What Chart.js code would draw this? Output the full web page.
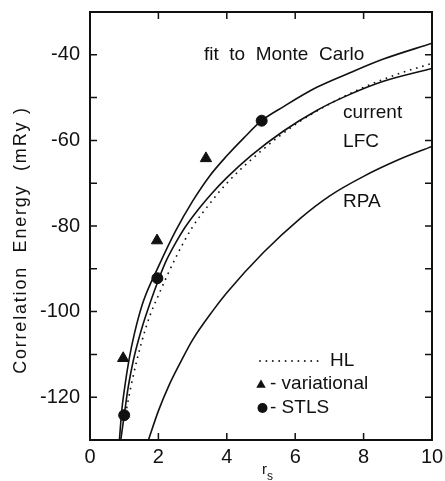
<!DOCTYPE html>
<html>
<head>
<meta charset="utf-8">
<script src="https://cdn.jsdelivr.net/npm/chart.js@4/dist/chart.umd.min.js"></script>
<style>
  html, body { margin: 0; padding: 0; background: #fff; }
  #wrap { width: 445px; height: 481px; }
</style>
</head>
<body>
<div id="wrap"><canvas id="c" width="445" height="481"></canvas></div>
<script>
// ---- data (r_s, correlation energy in mRy) ----
const mcRs  = [0.86, 0.93, 1.0, 1.14, 1.3, 1.56, 2.0, 2.5, 3.0, 3.5, 4.0, 4.5, 5.0, 5.66, 6.63, 7.6, 8.58, 10.0];
const mcE   = [-130, -123, -118.5, -111.3, -105.1, -97.6, -89.5, -81.2, -74.2, -68.3, -63.6, -59.4, -55.5, -52.1, -47.6, -44.2, -41.0, -37.3];

const lfcRs = [0.9, 1.0, 1.12, 1.27, 1.5, 1.8, 2.0, 2.2, 2.5, 2.78, 3.2, 3.56, 4.0, 4.7, 5.66, 6.63, 7.5, 8.58, 10.0];
const lfcE  = [-130, -124.2, -117.5, -111.3, -104.3, -97.0, -92.6, -88.6, -84.0, -80.3, -75.8, -72.4, -68.7, -63.6, -57.8, -53.0, -49.6, -46.2, -43.2];

const hlRs  = [1.0, 1.25, 1.5, 1.75, 2.0, 2.5, 3.0, 3.5, 4.0, 5.0, 6.0, 7.0, 8.0, 9.0, 10.0];
const hlE   = [-125.5, -115.5, -107.4, -101.0, -96.2, -87.5, -80.2, -74.8, -70.0, -62.5, -56.3, -51.5, -47.6, -44.5, -42.0];

const rpaRs = [1.71, 2.0, 2.3, 2.63, 3.0, 3.61, 4.0, 5.07, 6.15, 7.0, 8.0, 9.0, 10.0];
const rpaE  = [-130, -123.2, -117.4, -112.1, -106.6, -99.6, -95.6, -86.2, -78.2, -73.0, -68.4, -64.6, -61.4];

const variationalRs = [0.97, 1.96, 3.39];
const variationalE  = [-110.9, -83.4, -64.2];

const stlsRs = [1.0, 1.97, 5.02];
const stlsE  = [-124.2, -92.2, -55.4];

const xTickStep = 2;
const yTickStep = 10;
const yLabelStep = 20;

// ---- text content ----
const yTitle = 'Correlation  Energy  (mRy )';
const xTitleMain = 'r';
const xTitleSub = 's';
const notes = [
  { text: 'fit  to  Monte  Carlo', r: 3.33, e: -39.9 },
  { text: 'current', r: 7.40, e: -53.6 },
  { text: 'LFC', r: 7.40, e: -60.4 },
  { text: 'RPA', r: 7.40, e: -74.4 }
];
const legendItems = ['HL', '- variational', '- STLS'];

// ---- styling / layout (not data) ----
const FONT = '"Liberation Sans", Arial, Helvetica, sans-serif';
const INK = '#111';
const LEG = { dotX0: 260, dotX1: 318, dotY: 361, hlX: 330, triX: 261, triY: 385, cirX: 262.5, cirY: 408, textX: 270 };

const pts = (xs, ys) => xs.map((x, i) => ({ x: x, y: ys[i] }));

const lineBase = {
  showLine: true, pointRadius: 0, borderColor: INK, borderWidth: 1.6,
  cubicInterpolationMode: 'monotone', fill: false
};

const decor = {
  id: 'decor',
  afterDraw(chart) {
    const { ctx, chartArea: a, scales: { x, y } } = chart;
    ctx.save();
    ctx.strokeStyle = INK;
    ctx.fillStyle = INK;
    // frame
    ctx.lineWidth = 2;
    ctx.strokeRect(a.left, a.top, a.right - a.left, a.bottom - a.top);
    // inward ticks on all four sides
    ctx.lineWidth = 1.5;
    ctx.beginPath();
    x.ticks.forEach(t => {
      if (t.value <= x.min || t.value >= x.max) return;
      const px = x.getPixelForValue(t.value);
      ctx.moveTo(px, a.bottom); ctx.lineTo(px, a.bottom - 7);
      ctx.moveTo(px, a.top); ctx.lineTo(px, a.top + 7);
    });
    y.ticks.forEach(t => {
      if (t.value <= y.min || t.value >= y.max) return;
      const py = y.getPixelForValue(t.value);
      ctx.moveTo(a.left, py); ctx.lineTo(a.left + 7, py);
      ctx.moveTo(a.right, py); ctx.lineTo(a.right - 7, py);
    });
    ctx.stroke();

    // annotations
    ctx.font = '19px ' + FONT;
    ctx.textBaseline = 'middle';
    ctx.textAlign = 'left';
    notes.forEach(n => ctx.fillText(n.text, x.getPixelForValue(n.r), y.getPixelForValue(n.e)));

    // legend
    for (let dx = LEG.dotX0; dx <= LEG.dotX1; dx += 6.4) {
      ctx.beginPath(); ctx.arc(dx, LEG.dotY, 0.9, 0, Math.PI * 2); ctx.fill();
    }
    ctx.fillText(legendItems[0], LEG.hlX, LEG.dotY);
    const s = 5.5;
    ctx.beginPath();
    ctx.moveTo(LEG.triX, LEG.triY - s);
    ctx.lineTo(LEG.triX + s * 0.866, LEG.triY + s / 2);
    ctx.lineTo(LEG.triX - s * 0.866, LEG.triY + s / 2);
    ctx.closePath(); ctx.fill();
    ctx.fillText(legendItems[1], LEG.textX, LEG.triY - 1);
    ctx.beginPath(); ctx.arc(LEG.cirX, LEG.cirY, 5, 0, Math.PI * 2); ctx.fill();
    ctx.fillText(legendItems[2], LEG.textX, LEG.cirY);

    // y title (rotated)
    ctx.save();
    ctx.translate(21, 240);
    ctx.rotate(-Math.PI / 2);
    ctx.font = '18px ' + FONT;
    ctx.letterSpacing = '1.8px';
    ctx.textAlign = 'center';
    ctx.textBaseline = 'middle';
    ctx.fillText(yTitle, 0, 0);
    ctx.restore();

    // x title r_s
    ctx.textBaseline = 'alphabetic';
    ctx.textAlign = 'left';
    ctx.font = '15px ' + FONT;
    ctx.fillText(xTitleMain, 262, 474);
    ctx.font = '12px ' + FONT;
    ctx.fillText(xTitleSub, 267, 480);
    ctx.restore();
  }
};

new Chart(document.getElementById('c'), {
  type: 'scatter',
  data: {
    datasets: [
      Object.assign({ label: 'fit to Monte Carlo', data: pts(mcRs, mcE) }, lineBase),
      Object.assign({ label: 'current LFC', data: pts(lfcRs, lfcE) }, lineBase),
      Object.assign({ label: 'HL', data: pts(hlRs, hlE) }, lineBase, { borderDash: [1.6, 4.8], borderWidth: 1.6 }),
      Object.assign({ label: 'RPA', data: pts(rpaRs, rpaE) }, lineBase),
      { label: 'variational', data: pts(variationalRs, variationalE), showLine: false,
        pointStyle: 'triangle', pointRadius: 6.5, backgroundColor: INK, borderColor: INK, borderWidth: 1 },
      { label: 'STLS', data: pts(stlsRs, stlsE), showLine: false,
        pointStyle: 'circle', pointRadius: 5.5, backgroundColor: INK, borderColor: INK, borderWidth: 1 }
    ]
  },
  options: {
    responsive: false,
    animation: false,
    devicePixelRatio: 1,
    layout: { padding: { left: 0, right: 13, top: 12, bottom: 0 } },
    plugins: { legend: { display: false }, tooltip: { enabled: false } },
    scales: {
      x: {
        type: 'linear', min: 0, max: 10,
        grid: { display: false, drawTicks: false },
        border: { display: false },
        ticks: { stepSize: xTickStep, color: INK, padding: 5, font: { family: FONT, size: 20 } },
        afterFit: s => { s.height = 41; s.paddingLeft = 0; s.paddingRight = 0; }
      },
      y: {
        type: 'linear', min: -130, max: -30,
        grid: { display: false, drawTicks: false },
        border: { display: false },
        ticks: {
          stepSize: yTickStep, color: INK, padding: 10, font: { family: FONT, size: 20 },
          callback: v => (v % yLabelStep === 0 ? String(v) : '')
        },
        afterFit: s => { s.width = 90; s.paddingTop = 0; s.paddingBottom = 0; }
      }
    }
  },
  plugins: [decor]
});
</script>
</body>
</html>
